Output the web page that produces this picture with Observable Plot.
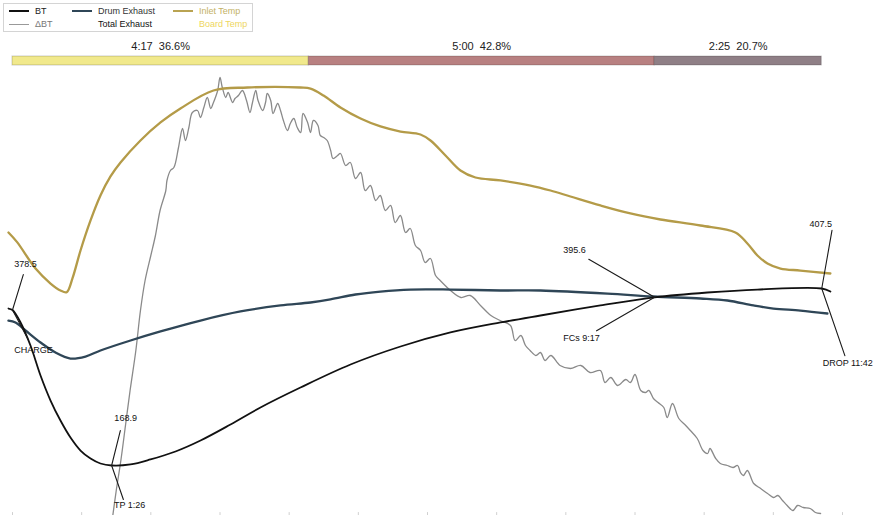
<!DOCTYPE html>
<html>
<head>
<meta charset="utf-8">
<script src="https://cdn.jsdelivr.net/npm/d3@7"></script>
<script src="https://cdn.jsdelivr.net/npm/@observablehq/plot@0.6"></script>
<style>
  body { margin: 0; background: #fff; font-family: "Liberation Sans", Arial, sans-serif; }
  #wrap { position: relative; width: 880px; height: 515px; overflow: hidden; background: #fff; }
  #wrap svg { position: absolute; left: 0; top: 0; }
  svg text { white-space: pre; }
  #legend { position: absolute; left: 3px; top: 3px; width: 248px; height: 27px; border: 1px solid #d4d4d4; background: #fff; font-size: 9px; z-index: 5; }
  #legend .item { position: absolute; height: 12px; }
  #legend .ln { position: absolute; left: 0; width: 20px; top: 50%; }
  #legend .tx { position: absolute; left: 26px; top: 0; line-height: 12px; white-space: nowrap; }
</style>
</head>
<body>
<div id="wrap"><div id="legend"></div></div>
<script>
// ---------------- data (time in seconds from CHARGE, temperatures in °F) ----------------
const btPoints = [[-3.5,380.5],[0,378.5],[7,361.7],[15.6,330.6],[24.3,290.2],[33,256.5],[41.6,229.5],[50.3,206.6],[59,189.1],[67.7,178.3],[76.3,171.6],[86,168.9],[102.4,170.3],[119.7,177.0],[141.4,187.8],[163.1,202.6],[189.1,224.2],[215.1,247.1],[249.8,274.0],[293.2,305.0],[336.6,329.3],[379.9,348.2],[423.3,361.7],[458,371.1],[510,384.6],[557,395.6],[602.8,402.1],[646.2,406.1],[702,407.5],[709.5,403.4]];

const drumPoints = [[-3.5,364.3],[2.6,361.7],[11.3,350.9],[24.3,334.7],[37.3,321.2],[50.3,313.1],[63.3,315.8],[76.3,323.9],[102.4,337.4],[128.4,349.6],[163.1,364.3],[197.8,376.5],[232.5,384.6],[258.5,388.6],[275.8,392.7],[297.5,399.4],[319.2,403.4],[345.2,406.1],[379.9,406.1],[423.3,404.8],[458,404.8],[516.1,400.7],[556,396.7],[596.8,394.0],[620.2,391.3],[642.7,384.6],[660.1,380.5],[683.5,377.8],[706.9,373.8]];

const inletPoints = [[-3.5,483.0],[4,470],[20,434.4],[33,414.2],[41.6,404.8],[47,402.5],[52,421.0],[59,458.7],[67.7,499.2],[76.3,532.8],[85,558.5],[93.7,577.3],[111,607.0],[128.4,631.3],[145.7,650.1],[174.3,674.4],[203.8,678.4],[249.8,678.4],[258.5,677.0],[269.8,667.6],[284.5,651.5],[301.9,636.6],[319.2,625.9],[336.6,619.1],[353.9,615.1],[362.6,607.0],[375.6,586.8],[388.6,566.5],[401.6,557.1],[423.3,553.1],[449.3,546.3],[466.7,539.6],[484,531.5],[510,519.4],[536,508.6],[562.1,500.5],[596.8,492.4],[627.1,483.0],[637.5,468.1],[646.2,452.0],[654.9,441.2],[666.2,434.4],[683.5,431.7],[709.5,427.7]];

const rorPoints = [[87,0],[90,2.5],[94,5.5],[98,9],[102,12.5],[107,16.5],[111,20.5],[115,23.5],[120,26],[124,28],[128,30.5],[133,32.5],[134,33.5],[137,34.5],[140,34.8],[144,36.8],[147.5,38.7],[150,37.5],[153,38.8],[156,40.3],[160.5,40.5],[163,39.8],[166,40.8],[169,41.8],[172,40.7],[174,41.2],[178,42.5],[180,43.8],[182,42.8],[185,41.8],[187,42.3],[191,41.3],[193,41.7],[196,42.0],[199.5,42.5],[203,41.5],[206,40.3],[208,41.2],[211,42.5],[213,41.5],[217,40.5],[219.5,41.3],[221,42.2],[224,41.5],[226,40.2],[230,41.2],[232.5,40.5],[235,39.5],[238.5,38.5],[241,39.2],[244,39.7],[247,38.8],[250,38.3],[252,40.2],[256,39.3],[258.5,38.3],[261,39.5],[265,39.0],[267,38.0],[270,37.8],[273,37.5],[276,36.5],[278,35.7],[282,36.0],[284.5,36.2],[289,35.0],[293,35.3],[297.5,33.7],[302,34.3],[306,32.5],[310.5,33.0],[315,31.5],[319,32.0],[323.5,30.5],[328,31.0],[332,29.3],[336.5,30.0],[341,28.3],[345,28.7],[349.5,27.0],[354,26.5],[358,25.3],[362.5,25.7],[367,24.0],[371,23.5],[380,22.5],[389,21.8],[397,22.0],[406,21.0],[415,20.0],[423,19.5],[432,19.0],[436,17.5],[441,18.0],[445,17.0],[449,16.5],[454,16.0],[458,16.3],[462,15.5],[467,16.0],[475,15.0],[484,14.7],[493,15.0],[501,14.3],[510,14.5],[514,13.3],[519,13.8],[525,13.0],[532,13.6],[536,13.3],[540,14.1],[545,12.5],[549,12.3],[552,12.5],[556,11.7],[560,11.3],[565,10.8],[568,9.8],[572.5,11.2],[578,9.7],[584,9.0],[588,8.5],[594,7.7],[599,6.5],[603,6.2],[605,6.7],[610,5.7],[614,5.2],[620,5.0],[625,4.8],[629,5.0],[631.5,4.3],[634,4.0],[637.5,4.5],[643,3.2],[649,2.7],[655,2.2],[660,1.8],[664,2.0],[668,1.5],[672,1.0],[677,0.5],[681,1.0],[686,0.8],[692,0.7],[696.5,0.3],[701,0.2]];

const eventNames = ["CHARGE", "TP", "FCs", "DROP"];
const eventTime = [0, 86, 557, 702];
const eventTemp = [378.5, 168.9, 395.6, 407.5];

const phaseNames = ["Drying", "Maillard", "Development"];
const phaseStart = [0, 257, 557];
const phaseEnd = [257, 557, 702];
const phasePct = [36.6, 42.8, 20.7];

const minuteTicks = [0, 60, 120, 180, 240, 300, 360, 420, 480, 540, 600, 660, 720];

const legendLabels = ["BT", "ΔBT", "Drum Exhaust", "Total Exhaust", "Inlet Temp", "Board Temp"];

// ---------------- styles ----------------
const C = {bt: "#111111", ror: "#8a8a8a", drum: "#2f4657", inlet: "#b49b48"};
const FONT = "Liberation Sans, Arial, sans-serif";
const W = 880, H = 515, ML = 12, MR = 38;
const tempDomain = [101.5, 795.7];
const rorDomain = [0, 51.5];

const toRows = pts => pts.map(([t, v]) => ({t, v}));
const fmt = s => `${Math.floor(s / 60)}:${String(s % 60).padStart(2, "0")}`;
const lineShape = {draw(ctx, l) { ctx.moveTo(0, 0); ctx.lineTo(0, -l); }};
const baseStyle = {background: "transparent", fontFamily: FONT, overflow: "visible"};

const wrap = document.getElementById("wrap");

// ---------------- ΔBT layer (own y scale) ----------------
const rorPlot = Plot.plot({
  width: W, height: H, marginLeft: ML, marginRight: MR, marginTop: 0, marginBottom: 0,
  style: baseStyle,
  x: {domain: [0, 720], axis: null},
  y: {domain: rorDomain, axis: null},
  marks: [
    Plot.line(toRows(rorPoints), {x: "t", y: "v", stroke: C.ror, strokeWidth: 1.3, curve: "catmull-rom"})
  ]
});
wrap.appendChild(rorPlot);

// ---------------- temperature layer ----------------
const events = eventNames.map((name, i) => ({name, t: eventTime[i], v: eventTemp[i]}));
const ann = {
  CHARGE: {val: [13, -46], nm: [21, 40], vl: [37, 17], nl: [33, 152]},
  TP:     {val: [14, -47], nm: [18, 40], vl: [36, 14], nl: [36, 161]},
  FCs:    {val: [-80, -47], nm: [-73, 41], vl: [76, -60], nl: [67, -120]},
  DROP:   {val: [-1, -64], nm: [26, 75], vl: [59, 10], nl: [71, 161]}
};
const annMarks = events.flatMap(d => {
  const a = ann[d.name];
  const nameText = d.name === "CHARGE" ? d.name : `${d.name} ${fmt(d.t)}`;
  return [
    Plot.vector([d], {x: "t", y: "v", length: a.vl[0], rotate: a.vl[1], anchor: "start", shape: lineShape, stroke: "#1a1a1a", strokeWidth: 1.1, fill: "none"}),
    Plot.vector([d], {x: "t", y: "v", length: a.nl[0], rotate: a.nl[1], anchor: "start", shape: lineShape, stroke: "#1a1a1a", strokeWidth: 1.1, fill: "none"}),
    Plot.text([d], {x: "t", y: "v", text: dd => dd.v.toFixed(1), dx: a.val[0], dy: a.val[1], fontSize: 9, fill: "#111"}),
    Plot.text([d], {x: "t", y: "v", text: () => nameText, dx: a.nm[0], dy: a.nm[1], fontSize: 9, fill: "#111"})
  ];
});

const mainPlot = Plot.plot({
  width: W, height: H, marginLeft: ML, marginRight: MR, marginTop: 0, marginBottom: 0,
  style: baseStyle,
  x: {domain: [0, 720], axis: null},
  y: {domain: tempDomain, axis: null},
  marks: [
    Plot.vector(minuteTicks, {x: d => d, frameAnchor: "bottom", length: 3, anchor: "start", shape: lineShape, stroke: "#d0d0d0", strokeWidth: 1, fill: "none"}),
    Plot.line(toRows(inletPoints), {x: "t", y: "v", stroke: C.inlet, strokeWidth: 2.3, curve: "catmull-rom"}),
    Plot.line(toRows(drumPoints), {x: "t", y: "v", stroke: C.drum, strokeWidth: 2.3, curve: "catmull-rom"}),
    Plot.line(toRows(btPoints), {x: "t", y: "v", stroke: C.bt, strokeWidth: 1.8, curve: "catmull-rom"}),
    ...annMarks
  ]
});
wrap.appendChild(mainPlot);

// ---------------- phase bar ----------------
const phases = phaseNames.map((name, i) => ({name, s: phaseStart[i], e: phaseEnd[i], pct: phasePct[i]}));
const phasePlot = Plot.plot({
  width: W, height: 70, marginLeft: ML, marginRight: MR, marginTop: 56, marginBottom: 5,
  style: baseStyle,
  x: {domain: [0, 720], axis: null},
  y: {axis: null, padding: 0},
  color: {domain: phaseNames, range: ["#f1e98c", "#b88081", "#8f7f86"]},
  marks: [
    Plot.barX(phases, {x1: "s", x2: "e", y: () => "bar", fill: "name", stroke: "#00000030", strokeWidth: 1, inset: 0}),
    Plot.text(phases, {x: d => (d.s + d.e) / 2, y: () => "bar", text: d => `${fmt(d.e - d.s)}  ${d.pct.toFixed(1)}%`, dy: -15, fontSize: 11, fill: "#222"})
  ]
});
wrap.appendChild(phasePlot);

// ---------------- legend ----------------
const legendStyle = {
  "BT": {line: C.bt, w: 2, text: "#222"},
  "ΔBT": {line: "#999", w: 1, text: "#777"},
  "Drum Exhaust": {line: C.drum, w: 2.5, text: "#333"},
  "Total Exhaust": {line: null, w: 0, text: "#111"},
  "Inlet Temp": {line: "#b9a352", w: 2, text: "#c4b266"},
  "Board Temp": {line: null, w: 0, text: "#eed65e"}
};
const colLeft = [5, 68, 169];
const legend = document.getElementById("legend");
legendLabels.forEach((label, i) => {
  const st = legendStyle[label];
  const item = document.createElement("div");
  item.className = "item";
  item.style.left = colLeft[Math.floor(i / 2)] + "px";
  item.style.top = (i % 2 === 0 ? 1 : 14) + "px";
  item.style.width = "80px";
  if (st.line) {
    const ln = document.createElement("div");
    ln.className = "ln";
    ln.style.borderTop = `${st.w}px solid ${st.line}`;
    ln.style.marginTop = `${-st.w / 2}px`;
    item.appendChild(ln);
  }
  const tx = document.createElement("div");
  tx.className = "tx";
  tx.style.color = st.text;
  tx.textContent = label;
  item.appendChild(tx);
  legend.appendChild(item);
});
</script>
</body>
</html>
